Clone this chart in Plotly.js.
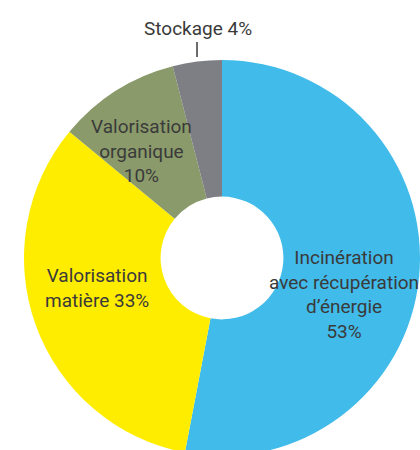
<!DOCTYPE html>
<html>
<head>
<meta charset="utf-8">
<script src="https://cdn.plot.ly/plotly-3.0.1.min.js"></script>
<style>
html, body { margin: 0; padding: 0; overflow: hidden; background: #fff; width: 420px; height: 450px; }
#chart { width: 420px; height: 456px; }
</style>
</head>
<body>
<div id="chart"></div>
<script>
const categories = ["Incinération avec récupération d’énergie", "Valorisation matière", "Valorisation organique", "Stockage"];
const values = [53, 33, 10, 4];
const colors = ["#41BBEA", "#FFED00", "#8A9A6B", "#7E7F84"];
const labelLines = [
  ["Incinération", "avec récupération", "d’énergie"],
  ["Valorisation", "matière"],
  ["Valorisation", "organique"],
  ["Stockage"]
];

const labelText = [
  labelLines[0].join("<br>") + "<br>" + values[0] + "%",
  labelLines[1][0] + "<br>" + labelLines[1][1] + " " + values[1] + "%",
  labelLines[2].join("<br>") + "<br>" + values[2] + "%",
  labelLines[3][0] + " " + values[3] + "%"
];
const labelPos = [[0.808, 0.409], [0.184, 0.424], [0.2955, 0.770], [0.4394, 1.0808]];

const data = [{
  type: "pie",
  labels: categories,
  values: values,
  marker: { colors: colors, line: { width: 0 } },
  hole: 0.31,
  sort: false,
  direction: "clockwise",
  rotation: 0,
  textinfo: "none",
  hoverinfo: "label+percent",
  showlegend: false,
  domain: { x: [0, 1], y: [0, 1] }
}];

const layout = {
  width: 420,
  height: 456,
  margin: { l: 24, r: 0, t: 60, b: 0, pad: 0 },
  paper_bgcolor: "#ffffff",
  showlegend: false,
  annotations: labelText.map((t, i) => ({
    text: t,
    x: labelPos[i][0],
    y: labelPos[i][1],
    xref: "paper",
    yref: "paper",
    xanchor: "center",
    yanchor: "middle",
    showarrow: false,
    align: "center",
    font: { family: "Roboto, sans-serif", size: 19, color: "#3a3a3a" }
  })),
  shapes: [{
    type: "line",
    xref: "paper", yref: "paper",
    x0: 0.4369, x1: 0.4369, y0: 1.0455, y1: 1.0076,
    line: { color: "#3a3a3a", width: 1.5 }
  }]
};

Plotly.newPlot("chart", data, layout, { displayModeBar: false, staticPlot: true });
</script>
</body>
</html>
